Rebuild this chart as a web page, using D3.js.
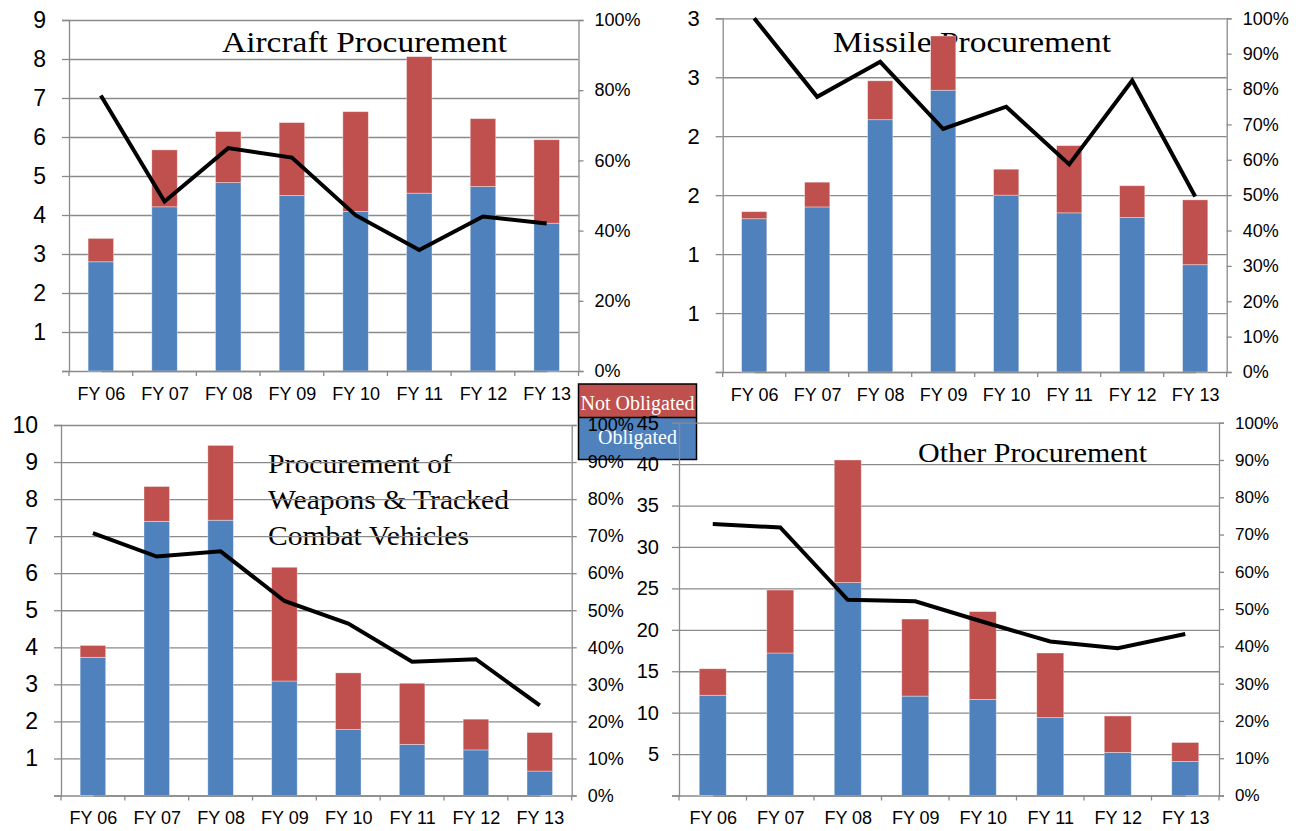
<!DOCTYPE html>
<html>
<head>
<meta charset="utf-8">
<script src="https://cdn.jsdelivr.net/npm/d3@7"></script>
<style>
  html, body { margin: 0; padding: 0; background: #fff; }
  svg { display: block; }
</style>
</head>
<body>
<svg id="chart" width="1304" height="831"></svg>
<script>
// ---------------- DATA ----------------
const categories = ["FY 06", "FY 07", "FY 08", "FY 09", "FY 10", "FY 11", "FY 12", "FY 13"];

const aircraftObligated    = [2.80, 4.21, 4.83, 4.50, 4.09, 4.56, 4.73, 3.79];
const aircraftNotObligated = [0.60, 1.46, 1.31, 1.87, 2.56, 3.50, 1.74, 2.14];
const aircraftPercent      = [78.5, 48.3, 63.5, 60.8, 44.4, 34.5, 44.0, 42.0];

const missileObligated     = [1.30, 1.40, 2.14, 2.39, 1.50, 1.35, 1.31, 0.91];
const missileNotObligated  = [0.06, 0.21, 0.33, 0.46, 0.22, 0.57, 0.27, 0.55];
const missilePercent       = [100, 77.8, 87.7, 68.7, 75.0, 58.7, 82.4, 49.6];

const weaponsObligated     = [3.73, 7.40, 7.43, 3.09, 1.78, 1.38, 1.23, 0.66];
const weaponsNotObligated  = [0.32, 0.94, 2.02, 3.07, 1.53, 1.65, 0.83, 1.04];
const weaponsPercent       = [70.8, 64.5, 65.9, 52.5, 46.4, 36.1, 36.8, 24.3];

const otherObligated       = [12.1, 17.2, 25.7, 12.0, 11.6, 9.4, 5.2, 4.1];
const otherNotObligated    = [3.2, 7.6, 14.8, 9.3, 10.6, 7.8, 4.4, 2.3];
const otherPercent         = [72.8, 71.9, 52.5, 52.1, 46.6, 41.3, 39.5, 43.3];

const aircraftTicks      = [0, 1, 2, 3, 4, 5, 6, 7, 8, 9];
const aircraftTickLabels = ["", "1", "2", "3", "4", "5", "6", "7", "8", "9"];
const missileTicks       = [0, 0.5, 1, 1.5, 2, 2.5, 3];
const missileTickLabels  = ["", "1", "1", "2", "2", "3", "3"];
const weaponsTicks       = [0, 1, 2, 3, 4, 5, 6, 7, 8, 9, 10];
const weaponsTickLabels  = ["", "1", "2", "3", "4", "5", "6", "7", "8", "9", "10"];
const otherTicks         = [0, 5, 10, 15, 20, 25, 30, 35, 40, 45];
const otherTickLabels    = ["", "5", "10", "15", "20", "25", "30", "35", "40", "45"];

const pctTicks20       = [0, 20, 40, 60, 80, 100];
const pctTickLabels20  = ["0%", "20%", "40%", "60%", "80%", "100%"];
const pctTicks10       = [0, 10, 20, 30, 40, 50, 60, 70, 80, 90, 100];
const pctTickLabels10  = ["0%", "10%", "20%", "30%", "40%", "50%", "60%", "70%", "80%", "90%", "100%"];

const seriesNames = ["Not Obligated", "Obligated"];

// ---------------- STYLE ----------------
const BLUE = "#4F81BD", RED = "#C0504D", GRID = "#8a8a8a";
const SANS = "'Liberation Sans', Arial, sans-serif";
const SERIF = "'Liberation Serif', 'Times New Roman', serif";

const svg = d3.select("#chart");

// ---------------- LEGEND (drawn first: panels overlap it) ----------------
const legend = svg.append("g");
const legX = 578.5, legW = 118, legTop = 384, legMid = 417.5, legBot = 459.5;
legend.append("rect").attr("x", legX).attr("y", legTop).attr("width", legW).attr("height", legMid - legTop)
  .attr("fill", RED);
legend.append("rect").attr("x", legX).attr("y", legMid).attr("width", legW).attr("height", legBot - legMid)
  .attr("fill", BLUE);
legend.append("rect").attr("x", legX).attr("y", legTop).attr("width", legW).attr("height", legBot - legTop)
  .attr("fill", "none").attr("stroke", "#000").attr("stroke-width", 1.5);
legend.append("line").attr("x1", legX).attr("x2", legX + legW).attr("y1", legMid).attr("y2", legMid)
  .attr("stroke", "#000").attr("stroke-width", 1.5);
legend.append("text").attr("x", legX + legW / 2).attr("y", 410).attr("text-anchor", "middle")
  .attr("font-family", SERIF).attr("font-size", 20).attr("fill", "#fff").text(seriesNames[0]);
legend.append("text").attr("x", legX + legW / 2).attr("y", 444).attr("text-anchor", "middle")
  .attr("font-family", SERIF).attr("font-size", 20).attr("fill", "#fff").text(seriesNames[1]);

// ---------------- PANEL ----------------
function panel(cfg) {
  const g = svg.append("g");
  const { left, right, top, bottom } = cfg;
  const yMax = cfg.ticks[cfg.ticks.length - 1];

  const x = d3.scaleBand().domain(categories).range([left, right]).paddingInner(0.6).paddingOuter(0.3);
  const step = x.step();
  const y = d3.scaleLinear().domain([0, yMax]).range([bottom, top]);
  const yp = d3.scaleLinear().domain([0, 100]).range([bottom, top]);

  // title (behind gridlines and bars)
  const t = g.append("text").attr("font-family", SERIF).attr("font-size", cfg.titleSize).attr("fill", "#000");
  cfg.title.forEach((line, i) => {
    t.append("tspan").attr("x", cfg.titleX).attr("y", cfg.titleY + i * 36)
      .attr("textLength", cfg.titleLen[i]).attr("lengthAdjust", "spacingAndGlyphs").text(line);
  });

  // gridlines
  g.append("g").attr("transform", `translate(${left},0)`)
    .call(d3.axisLeft(y).tickValues(cfg.ticks).tickSize(-(right - left)).tickFormat(""))
    .call(s => s.select(".domain").remove())
    .call(s => s.selectAll("line").attr("stroke", GRID).attr("stroke-width", 1.3));

  // stacked bars
  const stackData = categories.map((c, i) => ({ cat: c, obl: cfg.obl[i], not: cfg.not[i] }));
  const stacked = d3.stack().keys(["obl", "not"])(stackData);
  const colors = { obl: BLUE, not: RED };
  g.append("g").selectAll("g").data(stacked).join("g")
    .attr("fill", d => colors[d.key])
    .selectAll("rect").data(d => d).join("rect")
    .attr("x", d => x(d.data.cat))
    .attr("width", x.bandwidth())
    .attr("y", d => y(d[1]))
    .attr("height", d => y(d[0]) - y(d[1]))
    .attr("stroke", "rgba(255,255,255,0.45)").attr("stroke-width", 0.8);

  // percent line
  const line = d3.line().x((d, i) => x(categories[i]) + x.bandwidth() / 2).y(d => yp(d));
  g.append("path").datum(cfg.pct).attr("d", line)
    .attr("fill", "none").attr("stroke", "#000").attr("stroke-width", 4).attr("stroke-linejoin", "miter");

  // left axis
  g.append("g").attr("transform", `translate(${left},0)`)
    .call(d3.axisLeft(y).tickValues(cfg.ticks).tickSize(7).tickPadding(cfg.leftPad)
      .tickFormat((d, i) => cfg.tickLabels[i]))
    .call(s => s.select(".domain").attr("stroke", GRID).attr("stroke-width", 1.3))
    .call(s => s.selectAll("line").attr("stroke", GRID).attr("stroke-width", 1.3))
    .call(s => s.selectAll("text").attr("font-family", SANS).attr("font-size", cfg.leftSize).attr("fill", "#000"));

  // right axis
  g.append("g").attr("transform", `translate(${right},0)`)
    .call(d3.axisRight(yp).tickValues(cfg.pctTicks).tickSize(5).tickPadding(11)
      .tickFormat((d, i) => cfg.pctLabels[i]))
    .call(s => s.select(".domain").attr("stroke", GRID).attr("stroke-width", 1.3))
    .call(s => s.selectAll("line").attr("stroke", GRID).attr("stroke-width", 1.3))
    .call(s => s.selectAll("text").attr("font-family", SANS).attr("font-size", cfg.rightSize).attr("fill", "#000"));

  // bottom axis: labels at band centres
  const xc = d3.scalePoint().domain(categories).range([left + step / 2, right - step / 2]);
  g.append("g").attr("transform", `translate(0,${bottom})`)
    .call(d3.axisBottom(xc).tickSize(0).tickPadding(16))
    .call(s => s.select(".domain").attr("stroke", GRID).attr("stroke-width", 1.3))
    .call(s => s.selectAll("text").attr("font-family", SANS).attr("font-size", 18).attr("fill", "#000"));
  // tick marks at band boundaries
  g.append("g").selectAll("line").data(d3.range(categories.length + 1)).join("line")
    .attr("x1", i => left + i * step).attr("x2", i => left + i * step)
    .attr("y1", bottom).attr("y2", bottom + 5)
    .attr("stroke", GRID).attr("stroke-width", 1.3);
}

panel({
  left: 69, right: 578.5, top: 20, bottom: 371,
  obl: aircraftObligated, not: aircraftNotObligated, pct: aircraftPercent,
  ticks: aircraftTicks, tickLabels: aircraftTickLabels, leftSize: 23, leftPad: 16,
  pctTicks: pctTicks20, pctLabels: pctTickLabels20, rightSize: 18,
  title: ["Aircraft Procurement"], titleX: 222, titleY: 52, titleLen: [285], titleSize: 30
});

panel({
  left: 722.7, right: 1226.7, top: 18.3, bottom: 372,
  obl: missileObligated, not: missileNotObligated, pct: missilePercent,
  ticks: missileTicks, tickLabels: missileTickLabels, leftSize: 22, leftPad: 16,
  pctTicks: pctTicks10, pctLabels: pctTickLabels10, rightSize: 18,
  title: ["Missile Procurement"], titleX: 833, titleY: 52, titleLen: [278], titleSize: 30
});

panel({
  left: 61, right: 571.7, top: 425, bottom: 795.5,
  obl: weaponsObligated, not: weaponsNotObligated, pct: weaponsPercent,
  ticks: weaponsTicks, tickLabels: weaponsTickLabels, leftSize: 23, leftPad: 16,
  pctTicks: pctTicks10, pctLabels: pctTickLabels10, rightSize: 18,
  title: ["Procurement of", "Weapons & Tracked", "Combat Vehicles"], titleX: 268, titleY: 473,
  titleLen: [184, 241, 201], titleSize: 28
});

panel({
  left: 679, right: 1219, top: 422.7, bottom: 795.5,
  obl: otherObligated, not: otherNotObligated, pct: otherPercent,
  ticks: otherTicks, tickLabels: otherTickLabels, leftSize: 20, leftPad: 13,
  pctTicks: pctTicks10, pctLabels: pctTickLabels10, rightSize: 17,
  title: ["Other Procurement"], titleX: 918, titleY: 462, titleLen: [229], titleSize: 28
});
</script>
</body>
</html>
